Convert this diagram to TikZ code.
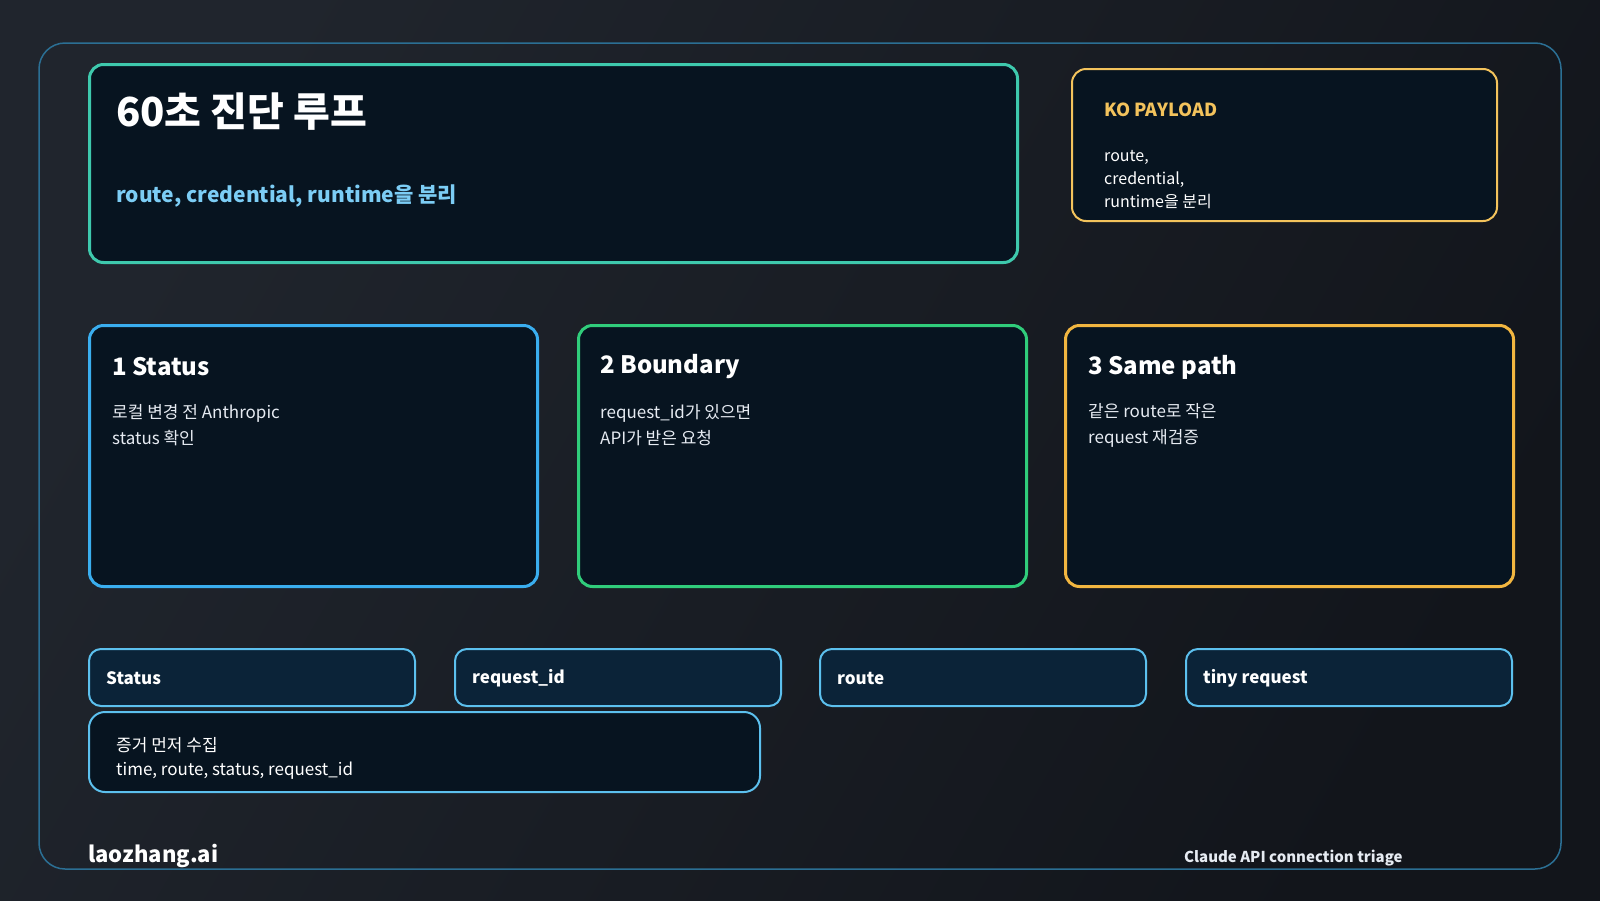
\documentclass[tikz,border=0pt]{standalone}
\usepackage{fontspec}
\setmainfont{Noto Sans CJK KR}
\usepackage{tikz}
\definecolor{bgA}{HTML}{20252D}
\definecolor{bgB}{HTML}{12151B}
\definecolor{frameC}{HTML}{2B6F94}
\definecolor{tealC}{HTML}{3EC9AD}
\definecolor{subC}{HTML}{7CCDF5}
\definecolor{goldC}{HTML}{F3C35C}
\definecolor{blueC}{HTML}{3AAEEF}
\definecolor{greenC}{HTML}{30CD7B}
\definecolor{orangeC}{HTML}{F2B640}
\definecolor{chipF}{HTML}{0B2338}
\definecolor{chipC}{HTML}{5CC0EE}
\definecolor{boxF}{HTML}{071420}
\definecolor{bodyC}{HTML}{E6EBF2}
\tikzset{
  panel/.style={draw, fill=boxF, rounded corners=14pt, line width=3pt,
    anchor=north west, inner sep=0pt, minimum width=#1},
  chip/.style={draw=chipC, fill=chipF, rounded corners=12pt, line width=2pt,
    anchor=north west, inner sep=0pt, minimum width=326pt, minimum height=57pt},
  txt/.style={anchor=west, inner sep=0pt, align=left, text=white},
  head/.style={txt, font=\bfseries\fontsize{24}{28}\selectfont},
  body/.style={txt, text=bodyC, font=\fontsize{17}{26}\selectfont},
  tag/.style={txt, font=\bfseries\fontsize{17}{20}\selectfont}
}
\begin{document}
\begin{tikzpicture}[x=1pt, y=-1pt]
  \useasboundingbox (0,0) rectangle (1600,900);
  \shade[left color=bgA, right color=bgB, shading angle=60] (0,0) rectangle (1600,900);
  \draw[frameC, line width=1.5pt, rounded corners=26pt] (39,43) rectangle (1561,869);
  % title block
  \node[panel=928pt, draw=tealC, minimum height=198pt] (TB) at (88,63) {};
  \node[txt, font=\bfseries\fontsize{40}{44}\selectfont] (TT) at (116,112) {60초 진단 루프};
  \node[txt, text=subC, font=\bfseries\fontsize{21}{26}\selectfont] (ST) at (116,196) {route, credential, runtime을 분리};
  % payload
  \node[panel=425pt, draw=goldC, line width=2pt, minimum height=152pt] (KO) at (1071,68) {};
  \node[txt, text=goldC, font=\bfseries\fontsize{18}{22}\selectfont] (KT) at (1104,110) {KO PAYLOAD};
  \node[txt, font=\fontsize{16}{23}\selectfont] (KB) at (1104,180) {route,\\credential,\\runtime을 분리};
  % cards
  \node[panel=448pt, draw=blueC, minimum height=261pt] (C1) at (88,324) {};
  \node[panel=448pt, draw=greenC, minimum height=261pt] (C2) at (577,324) {};
  \node[panel=448pt, draw=orangeC, minimum height=261pt] (C3) at (1064,324) {};
  \node[head] (H1) at (112,367) {1 Status};
  \node[head] (H2) at (600,367) {2 Boundary};
  \node[head] (H3) at (1088,367) {3 Same path};
  \node[body] (B1) at (112,425) {로컬 변경 전 Anthropic\\status 확인};
  \node[body] (B2) at (600,425) {request\_id가 있으면\\API가 받은 요청};
  \node[body] (B3) at (1088,425) {같은 route로 작은\\request 재검증};
  % chips
  \node[chip] (S1) at (88,648) {};
  \node[chip] (S2) at (454,648) {};
  \node[chip] (S3) at (819,648) {};
  \node[chip] (S4) at (1185,648) {};
  \node[tag] at (106,678) {Status};
  \node[tag] at (472,678) {request\_id};
  \node[tag] at (837,678) {route};
  \node[tag] at (1203,678) {tiny request};
  % evidence
  \node[panel=671pt, draw=chipC, line width=2pt, rounded corners=16pt, minimum height=80pt] (EV) at (88,711) {};
  \node[txt, font=\fontsize{17}{24}\selectfont] (EB) at (116,758) {증거 먼저 수집\\time, route, status, request\_id};
  % footer
  \node[txt, font=\bfseries\fontsize{22}{26}\selectfont] (LZ) at (88,856) {laozhang.ai};
  \node[txt, text=bodyC, font=\bfseries\fontsize{15}{18}\selectfont] (CA) at (1184,858) {Claude API connection triage};
\end{tikzpicture}
\end{document}
